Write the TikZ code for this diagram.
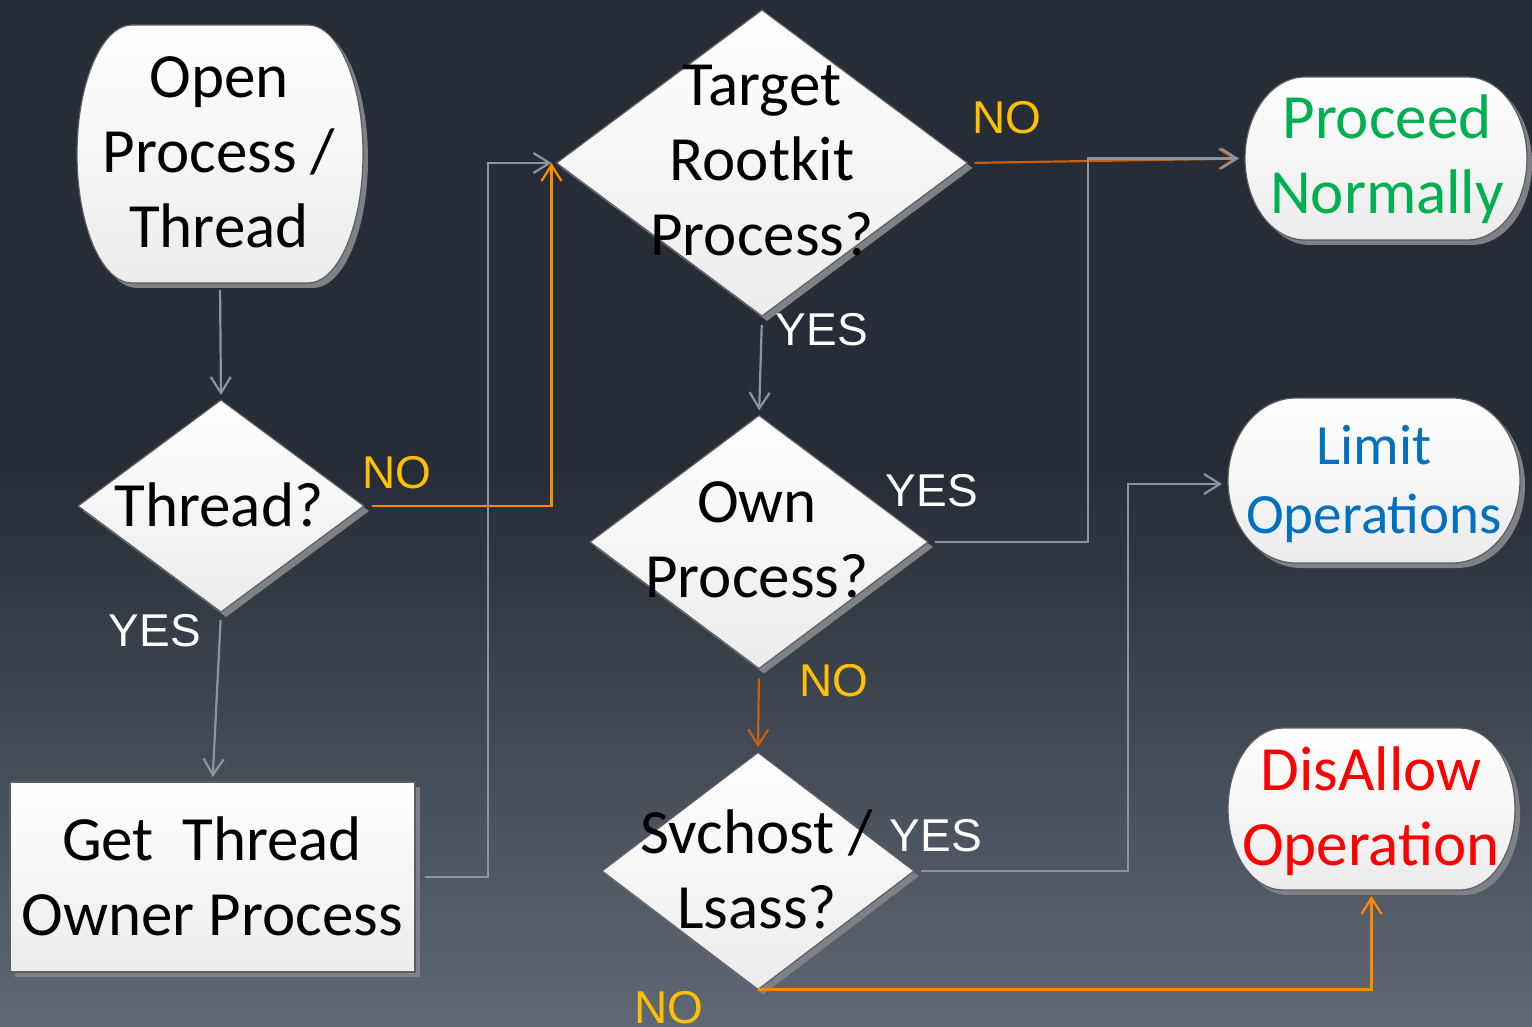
\documentclass[tikz,border=0pt]{standalone}
\usepackage{fontspec}
\setmainfont{Carlito}
\newfontfamily\labelfont{Liberation Sans}
\usetikzlibrary{shapes.geometric, arrows.meta, calc}

\definecolor{bgtop}{HTML}{262D36}
\definecolor{bgbot}{HTML}{5F6874}
\definecolor{shapebot}{HTML}{ECECEC}
\definecolor{shapeline}{HTML}{5A5D62}
\definecolor{shadowgray}{HTML}{7E8186}
\definecolor{linegray}{HTML}{8B95A1}
\definecolor{brightorange}{HTML}{FF8A00}
\definecolor{darkorange}{HTML}{C8610F}
\definecolor{notext}{HTML}{FFC000}
\definecolor{okgreen}{HTML}{00B050}
\definecolor{limitblue}{HTML}{0070C0}
\definecolor{denyred}{HTML}{FF0000}

% terminator outline: flat top and bottom, half-elliptic sides of bulge #2
\newcommand\capsulepath[2]{%
  ($(#1.north west)+(#2,0)$) -- ($(#1.north east)+(-#2,0)$)
  .. controls ($(#1.north east)+(-0.448*#2,0)$) and ($(#1.east)!0.552!(#1.north east)$) .. (#1.east)
  .. controls ($(#1.east)!0.552!(#1.south east)$) and ($(#1.south east)+(-0.448*#2,0)$) .. ($(#1.south east)+(-#2,0)$)
  -- ($(#1.south west)+(#2,0)$)
  .. controls ($(#1.south west)+(0.448*#2,0)$) and ($(#1.west)!0.552!(#1.south west)$) .. (#1.west)
  .. controls ($(#1.west)!0.552!(#1.north west)$) and ($(#1.north west)+(0.448*#2,0)$) .. cycle}

\tikzset{
  box/.style={inner sep=0pt, outer sep=0pt, top color=white, bottom color=shapebot,
    draw=shapeline, line width=0.6pt,
    preaction={fill=shadowgray, transform canvas={shift={(5,5)}}}},
  decision/.style={box, shape=diamond},
  process/.style={box, shape=rectangle},
  frame/.style={shape=rectangle, inner sep=0pt, outer sep=0pt},
  txt/.style={font=\fontsize{31.5}{37.5}\selectfont, align=center, inner sep=0pt},
  smalltxt/.style={txt, font=\fontsize{28.5}{34.5}\selectfont},
  lbl/.style={font=\labelfont\fontsize{23}{27}\selectfont, inner sep=0pt},
  yes/.style={lbl, text=white},
  no/.style={lbl, text=notext},
  conn/.style={line width=1.1pt, -{Straight Barb[length=8pt,width=10pt]}},
  grayline/.style={conn, draw=linegray},
  brightline/.style={conn, draw=brightorange},
  darkline/.style={conn, draw=darkorange},
}

\begin{document}
\begin{tikzpicture}[x=0.5pt, y=-0.5pt]
  \useasboundingbox (0,0) rectangle (1532,1027);

  % backdrop
  \fill[bgtop] (0,0) rectangle (1532,1027);
  \shade[top color=bgtop, bottom color=bgbot] (0,470) rectangle (1532,1027);

  % frames for the terminators
  \node[frame, minimum width=143pt, minimum height=129pt] (open) at (220,154) {};
  \node[frame, minimum width=141pt, minimum height=81.5pt] (proceed) at (1386,158.5) {};
  \node[frame, minimum width=146pt, minimum height=82.5pt] (limit) at (1374,480.5) {};
  \node[frame, minimum width=143.5pt, minimum height=81pt] (disallow) at (1371.5,809) {};

  \coordinate (j1) at (488,163);
  \coordinate (j2) at (1088,158.5);
  \coordinate (j3) at (1128,484);

  % shapes
  \draw[box] \capsulepath{open}{55};
  \draw[box] \capsulepath{proceed}{60};
  \draw[box] \capsulepath{limit}{68};
  \draw[box] \capsulepath{disallow}{55};

  \node[decision, minimum width=143pt, minimum height=106pt] (thread) at (221,506) {};
  \node[process, minimum width=202.5pt, minimum height=95pt] (owner) at (212.5,877) {};
  \node[decision, minimum width=205.5pt, minimum height=153pt] (target) at (762,163) {};
  \node[decision, minimum width=169pt, minimum height=126.5pt] (own) at (759,542) {};
  \node[decision, minimum width=156pt, minimum height=118.5pt] (svc) at (758,871) {};

  % texts
  \node[txt] (topen) at (219,152) {Open\\Process /\\Thread};
  \node[txt] (tthread) at (219,505) {Thread?};
  \node[txt] (towner) at (212,876) {Get~ Thread\\Owner Process};
  \node[txt] (ttarget) at (762,161) {Target\\Rootkit\\Process?};
  \node[txt] (town) at (757,540) {Own\\Process?};
  \node[txt] (tsvc) at (757,869) {Svchost /\\Lsass?};
  \node[txt, text=okgreen] (tproceed) at (1387,159) {Proceed\\Normally};
  \node[smalltxt, text=limitblue] (tlimit) at (1374,484) {Limit\\Operations};
  \node[txt, text=denyred] (tdisallow) at (1371,811) {DisAllow\\Operation};

  % flow
  \draw[grayline, shorten <=3.5pt, shorten >=2.5pt] (open.south) -- (thread.north);
  \draw[grayline, shorten <=4pt, shorten >=2.5pt] (thread.south) -- (owner.north);
  \draw[brightline, shorten <=4pt] (thread.east) -| ([xshift=-2.5pt]target.west);
  \draw[grayline, shorten <=5pt, shorten >=2.5pt] (owner.east) -| (j1) -- (target.west);
  \draw[darkline, shorten <=3.5pt, shorten >=4pt] (target.east) -- (proceed.west);
  \draw[grayline, shorten <=3.5pt, shorten >=3pt] (own.east) -| (j2) -- (proceed.west);
  \draw[grayline, shorten <=4.5pt, shorten >=2.5pt] (target.south) -- (own.north);
  \draw[darkline, shorten <=5pt, shorten >=2.5pt] (own.south) -- (svc.north);
  \draw[grayline, shorten <=3.5pt, shorten >=3pt] (svc.east) -| (j3) -- (limit.west |- j3);
  \draw[brightline, shorten >=3pt] (svc.south) -| (disallow.south);

  % branch labels
  \node[no] (nothread) at (397,473) {NO};
  \node[yes] (yesthread) at (155,631) {YES};
  \node[no] (notarget) at (1007,118) {NO};
  \node[yes] (yestarget) at (822,330) {YES};
  \node[yes] (yesown) at (932,491) {YES};
  \node[no] (noown) at (834,681) {NO};
  \node[yes] (yessvc) at (936,836) {YES};
  \node[no] (nosvc) at (669,1008) {NO};
\end{tikzpicture}
\end{document}
